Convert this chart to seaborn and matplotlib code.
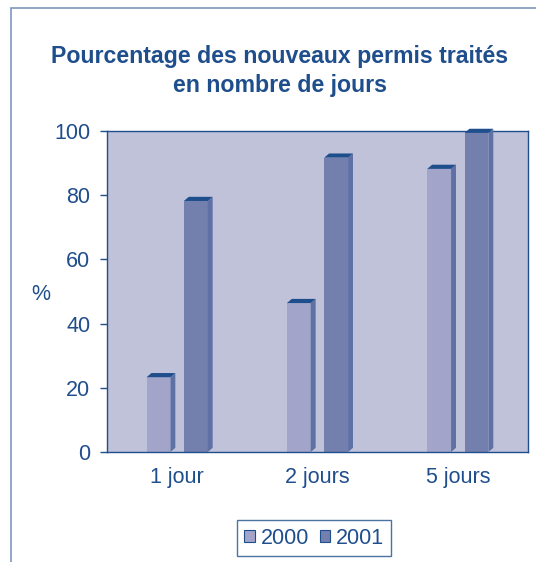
import numpy as np
import pandas as pd
import matplotlib.pyplot as plt
import seaborn as sns
from matplotlib.patches import Polygon, Rectangle

categories = ["1 jour", "2 jours", "5 jours"]
years = ["2000", "2001"]
values_2000 = [23.3, 46.4, 88.2]
values_2001 = [78.2, 91.7, 99.4]

navy = "#1F4E8C"
bar_colors = ["#A2A5C9", "#7380AE"]
side_color = "#5E70A4"
bg = "#C0C2DA"

df = pd.DataFrame({
    "cat": categories * 2,
    "year": [years[0]] * 3 + [years[1]] * 3,
    "val": values_2000 + values_2001,
})

sns.set_style("white")
plt.rcParams["font.family"] = ["Liberation Sans", "DejaVu Sans"]

fig = plt.figure(figsize=(5.36, 5.62), dpi=100)
ax = fig.add_axes([0.1996, 0.1957, 0.7854, 0.5712])
ax.set_facecolor(bg)

sns.barplot(data=df, x="cat", y="val", hue="year", palette=bar_colors,
            ax=ax, saturation=1, legend=True, edgecolor="none")

# narrow the bars and give them a fake 3d look
bw = 0.17
offsets = {0: -0.133, 1: 0.133}
dx, dy = 0.035, 1.3
for i, cont in enumerate(ax.containers):
    for j, bar in enumerate(cont):
        h = bar.get_height()
        x = j + offsets[i] - bw / 2
        bar.set_x(x)
        bar.set_width(bw)
        side = Polygon([(x + bw, 0), (x + bw + dx, dy), (x + bw + dx, h + dy), (x + bw, h)],
                       closed=True, facecolor=side_color, edgecolor="none", clip_on=False, zorder=3)
        top = Polygon([(x, h), (x + dx, h + dy), (x + bw + dx, h + dy), (x + bw, h)],
                      closed=True, facecolor=navy, edgecolor="none", clip_on=False, zorder=3)
        ax.add_patch(side)
        ax.add_patch(top)

ax.set_xlim(-0.5, 2.5)
ax.set_ylim(0, 100)
ax.set_yticks([0, 20, 40, 60, 80, 100])
ax.set_xticks([0, 1, 2])
ax.set_xticklabels(categories)
ax.set_xticks([0.5, 1.5], minor=True)
ax.tick_params(axis="x", which="major", length=0, pad=11, labelsize=15.5, labelcolor=navy)
ax.tick_params(axis="x", which="minor", length=5, width=1, color=navy, direction="out")
ax.tick_params(axis="y", length=5, width=1, color=navy, direction="out", labelsize=15.5,
               labelcolor=navy, pad=7, left=True)
ax.set_xlabel("")
ax.set_ylabel("%", rotation=0, fontsize=15.5, color=navy, va="center")
ax.yaxis.set_label_coords(-0.157, 0.49)
for s in ax.spines.values():
    s.set_color(navy)
    s.set_linewidth(1)

fig.text(0.522, 0.873, "Pourcentage des nouveaux permis traités\nen nombre de jours",
         ha="center", va="center", fontsize=16.7, fontweight="bold", color=navy, linespacing=1.32)

handles, labels = ax.get_legend_handles_labels()
for hd in handles:
    hd.set_edgecolor(navy)
    hd.set_linewidth(0.8)
leg = ax.legend(handles, labels, loc="center", bbox_to_anchor=(0.586, 0.042),
                bbox_transform=fig.transFigure, ncol=2, fontsize=15.5, frameon=True,
                fancybox=False, handlelength=0.5, handleheight=0.5, handletextpad=0.25,
                columnspacing=0.5, borderpad=0.35, borderaxespad=0, labelcolor=navy)
leg.get_frame().set_edgecolor(navy)
leg.get_frame().set_linewidth(1)

# outer frame of the figure (partly cropped)
fig.patches.append(Rectangle((11 / 536, -0.1), 1.2, (562 - 8) / 562 + 0.1,
                             transform=fig.transFigure, fill=False,
                             edgecolor="#7F97BD", linewidth=1.2))

fig.savefig("out.png", dpi=100)
